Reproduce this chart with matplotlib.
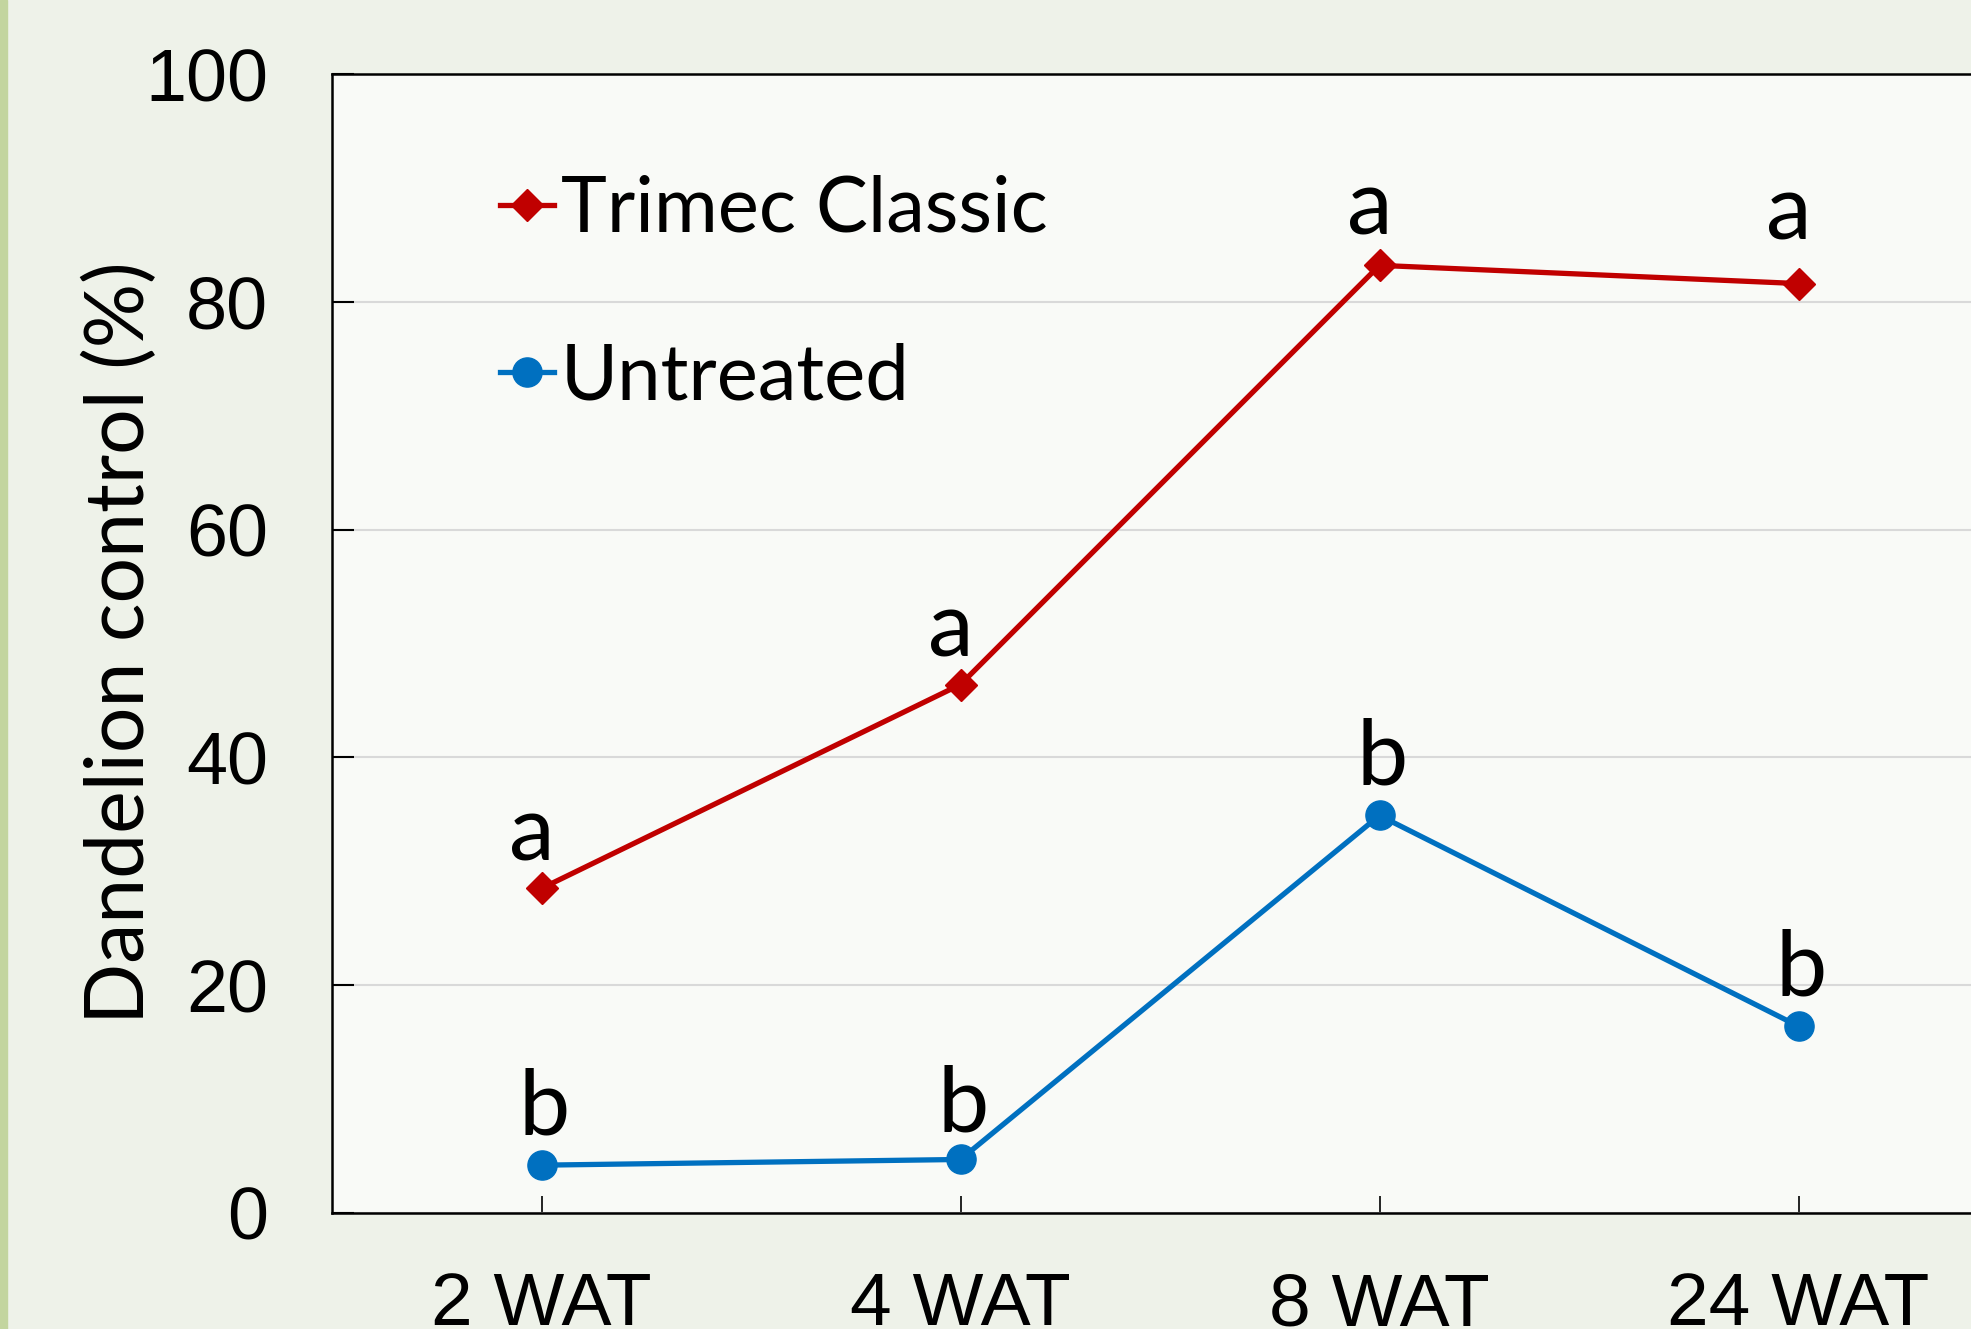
import matplotlib.pyplot as plt
from matplotlib.patches import Rectangle

# data
weeks = ['2 WAT', '4 WAT', '8 WAT', '24 WAT']
trimec = [28.5, 46.4, 83.2, 81.6]
untreated = [4.2, 4.7, 34.9, 16.4]
trimec_letters = ['a', 'a', 'a', 'a']
untreated_letters = ['b', 'b', 'b', 'b']

red = '#c00000'
blue = '#0070c0'
calibri_like = 'Lato'
arial_like = 'Liberation Sans'

fig = plt.figure(figsize=(19.71, 13.29), dpi=100, facecolor='#eef2e9')
# green stripe on the left edge of the slide
fig.patches.append(Rectangle((0, 0), 7 / 1971, 1, transform=fig.transFigure,
                             color='#c3d59f', zorder=0))

ax = fig.add_axes([332 / 1971, 1 - 1213 / 1329, 1676 / 1971, 1139 / 1329])
ax.set_facecolor('#f9faf7')

x = range(len(weeks))
ax.plot(x, trimec, color=red, linewidth=3.8, marker='D', markersize=16.5,
        label='Trimec Classic', zorder=3)
ax.plot(x, untreated, color=blue, linewidth=3.8, marker='o', markersize=21,
        label='Untreated', zorder=3)

# significance letters above each point
trimec_dy = [20, 20, 22, 32]
untreated_dy = [22, 20, 22, 22]
for i in x:
    ax.annotate(trimec_letters[i], (i, trimec[i]), xytext=(-7, trimec_dy[i]),
                textcoords='offset points', ha='center', va='baseline',
                fontsize=66, family=calibri_like)
    ax.annotate(untreated_letters[i], (i, untreated[i]), xytext=(2, untreated_dy[i]),
                textcoords='offset points', ha='center', va='baseline',
                fontsize=66, family=calibri_like)

ax.set_xlim(-0.5, 3.5)
ax.set_ylim(0, 100)
ax.set_yticks([0, 20, 40, 60, 80, 100])
ax.set_xticks(list(x))
ax.set_xticklabels(weeks)
ax.grid(axis='y', color='#d9d9d9', linewidth=1.5)
ax.set_axisbelow(True)

for side in ['left', 'bottom', 'top', 'right']:
    ax.spines[side].set_linewidth(1.8)
    ax.spines[side].set_color('black')

ax.tick_params(axis='y', direction='in', length=16, width=1.5, pad=46,
               labelsize=53)
ax.tick_params(axis='x', direction='in', length=12, width=1.2, pad=42,
               labelsize=54)
for lab in ax.get_xticklabels() + ax.get_yticklabels():
    lab.set_family(arial_like)

fig.text(120 / 1971, 1 - 643 / 1329, 'Dandelion control (%)', rotation=90,
         ha='center', va='center', fontsize=58, family=calibri_like)

ax.legend(loc='upper left', bbox_to_anchor=(500 / 1971, 1 - 175 / 1329),
          bbox_transform=fig.transFigure, frameon=False,
          prop={'family': calibri_like, 'size': 56},
          handlelength=0.7, handletextpad=0.08, labelspacing=1.24,
          borderpad=0, borderaxespad=0)

fig.savefig('out.png', dpi=100, facecolor=fig.get_facecolor())
